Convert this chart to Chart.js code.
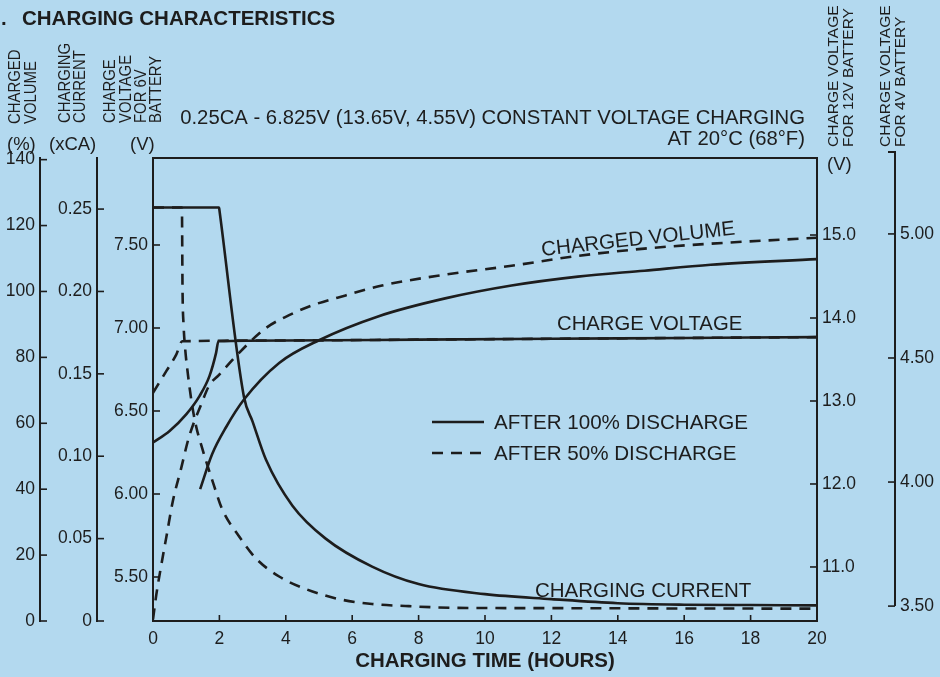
<!DOCTYPE html>
<html>
<head>
<meta charset="utf-8">
<script src="https://cdn.jsdelivr.net/npm/chart.js@4.4.1/dist/chart.umd.min.js"></script>
<style>
  html, body { margin: 0; padding: 0; background: #b3d9ef; }
  canvas { display: block; }
</style>
</head>
<body>
<canvas id="chart" width="940" height="677"></canvas>
<script>
// tick labels for every axis
var hourTicks = [0, 2, 4, 6, 8, 10, 12, 14, 16, 18, 20];
var volTicks = [0, 20, 40, 60, 80, 100, 120, 140];
var caTicks = [0, 0.05, 0.10, 0.15, 0.20, 0.25];
var v6Ticks = [5.5, 6.0, 6.5, 7.0, 7.5];
var v12Ticks = [11, 12, 13, 14, 15];
var v4Ticks = [3.5, 4.0, 4.5, 5.0];

// charge voltage (6V battery, V)
var volt100Hours = [0, 0.5, 1.0, 1.4, 1.7, 1.9, 1.97, 4, 8, 12, 16, 20];
var volt100 = [6.31, 6.38, 6.48, 6.59, 6.71, 6.85, 6.92, 6.925, 6.93, 6.935, 6.94, 6.945];
var volt50Hours = [0, 0.4, 0.7, 0.88, 4, 8, 12, 16, 20];
var volt50 = [6.61, 6.74, 6.84, 6.92, 6.925, 6.93, 6.935, 6.94, 6.945];

// charging current (xCA)
var cur100Hours = [0, 1.99, 2.0, 2.74, 3.0, 3.4, 4.2, 5.2, 6.6, 8.0, 10.0, 12, 14, 16, 18, 20];
var cur100 = [0.251, 0.251, 0.2495, 0.136, 0.121, 0.098, 0.070, 0.050, 0.033, 0.0224, 0.0163, 0.0133, 0.0108, 0.0099, 0.0097, 0.0095];
var cur50Hours = [0, 0.87, 0.89, 0.92, 0.97, 1.05, 1.17, 1.3, 1.45, 1.84, 2.08, 2.59, 3.1, 3.8, 4.6, 5.6, 6.6, 7.6, 9.1, 12, 16, 20];
var cur50 = [0.251, 0.251, 0.20, 0.18, 0.165, 0.150, 0.132, 0.118, 0.107, 0.082, 0.068, 0.0515, 0.038, 0.027, 0.0194, 0.0133, 0.0103, 0.0091, 0.0080, 0.0078, 0.0076, 0.0075];

// charged volume (%)
var vol100Hours = [1.42, 1.78, 2.2, 2.74, 3.8, 5.0, 6.8, 8.8, 10.8, 12.8, 14.8, 16.8, 20];
var vol100 = [40, 50.6, 58.8, 67.2, 78.3, 85.2, 92.5, 97.9, 101.8, 104.5, 106.3, 108.1, 109.8];
var vol50Hours = [0, 0.1, 0.25, 0.42, 0.6, 0.84, 1.08, 1.45, 1.69, 1.99, 2.5, 3.4, 4.1, 4.8, 5.8, 6.9, 8.8, 10.8, 12.8, 14.8, 16.8, 20];
var vol50 = [0.5, 8, 17, 26.5, 36.5, 46, 55.7, 65.7, 71.4, 74.7, 80.4, 88.9, 92.8, 95.8, 98.8, 101.8, 105.1, 107.8, 110.8, 113.0, 114.5, 116.3];

var ink = '#1d1d1d';
var face = '"Liberation Sans", Arial, sans-serif';

function pts(hs, vs) {
  return hs.map(function (h, i) { return { x: h, y: vs[i] }; });
}

function line(label, hs, vs, axis, dashed) {
  return {
    label: label,
    data: pts(hs, vs),
    yAxisID: axis,
    borderColor: ink,
    borderWidth: 2.6,
    borderDash: dashed ? [11, 8] : [],
    pointRadius: 0,
    fill: false,
    cubicInterpolationMode: 'monotone'
  };
}

function setTicks(arr) {
  return function (s) { s.ticks = arr.map(function (v) { return { value: v }; }); };
}

function fixWidth(w) {
  return function (s) { s.width = w; };
}

function put(ctx, s, x, y, size, o) {
  o = o || {};
  ctx.save();
  ctx.translate(x, y);
  if (o.rot) ctx.rotate(o.rot);
  if (o.sx) ctx.scale(o.sx, 1);
  ctx.font = (o.bold ? 'bold ' : '') + size + 'px ' + face;
  ctx.fillStyle = ink;
  ctx.textAlign = o.align || 'left';
  ctx.textBaseline = 'alphabetic';
  ctx.fillText(s, 0, 0);
  ctx.restore();
}

var tickFont = { family: face, size: 17.5 };

function yAxis(pos, weight, min, max, arr, width, fmt, border) {
  return {
    type: 'linear',
    position: pos,
    weight: weight,
    min: min,
    max: max,
    afterBuildTicks: setTicks(arr),
    afterFit: fixWidth(width),
    grid: { display: false, drawTicks: false },
    border: { display: border, color: ink, width: 2 },
    ticks: {
      autoSkip: false,
      padding: 5,
      color: ink,
      font: tickFont,
      callback: fmt
    }
  };
}

// inward tick marks, plot frame, 4V axis line and all the printed text
var decor = {
  id: 'decor',
  afterDraw: function (chart) {
    var ctx = chart.ctx;
    var a = chart.chartArea;
    var sc = chart.scales;
    ctx.save();
    ctx.strokeStyle = ink;
    ctx.lineWidth = 2;
    ctx.strokeRect(a.left, a.top, a.right - a.left, a.bottom - a.top);

    ctx.lineWidth = 1.6;
    // left axes: tick from the axis line to the right; right axes: to the left
    function ticksFor(id, side) {
      var s = sc[id];
      var x0 = side === 'left' ? s.right : s.left;
      var d = side === 'left' ? 7 : -7;
      s.ticks.forEach(function (t) {
        var p = s.getPixelForValue(t.value);
        ctx.beginPath();
        ctx.moveTo(x0, p);
        ctx.lineTo(x0 + d, p);
        ctx.stroke();
      });
    }
    ticksFor('yVol', 'left');
    ticksFor('yCA', 'left');
    ticksFor('y6', 'left');
    ticksFor('y12', 'right');
    ticksFor('y4', 'right');

    var xs = sc.x;
    xs.ticks.forEach(function (t) {
      var p = xs.getPixelForValue(t.value);
      ctx.beginPath();
      ctx.moveTo(p, a.bottom);
      ctx.lineTo(p, a.bottom - 6);
      ctx.stroke();
    });

    // 4V axis line, from 3.50 up above the frame
    var s4 = sc.y4;
    var y35 = s4.getPixelForValue(v4Ticks[0]);
    ctx.lineWidth = 2;
    ctx.beginPath();
    ctx.moveTo(s4.left, y35);
    ctx.lineTo(s4.left, s4.top - 6);
    ctx.lineTo(s4.left - 7, s4.top - 6);
    ctx.stroke();

    // legend
    ctx.lineWidth = 2.6;
    ctx.beginPath();
    ctx.moveTo(432, 422);
    ctx.lineTo(484, 422);
    ctx.stroke();
    ctx.setLineDash([11, 8]);
    ctx.beginPath();
    ctx.moveTo(432, 453);
    ctx.lineTo(484, 453);
    ctx.stroke();
    ctx.setLineDash([]);
    ctx.restore();

    put(ctx, 'AFTER 100% DISCHARGE', 494, 429, 20.6);
    put(ctx, 'AFTER 50% DISCHARGE', 494, 460, 20.6);

    put(ctx, '.', 1, 25, 20.5, { bold: true });
    put(ctx, 'CHARGING CHARACTERISTICS', 22, 25, 20.5, { bold: true });

    var up = -Math.PI / 2;
    put(ctx, 'CHARGED', 20, 124, 16, { rot: up, sx: 0.93 });
    put(ctx, 'VOLUME', 36, 124, 16, { rot: up, sx: 0.93 });
    put(ctx, 'CHARGING', 70, 123, 16, { rot: up, sx: 0.93 });
    put(ctx, 'CURRENT', 85, 123, 16, { rot: up, sx: 0.93 });
    put(ctx, 'CHARGE', 115, 123, 16, { rot: up, sx: 0.93 });
    put(ctx, 'VOLTAGE', 131, 123, 16, { rot: up, sx: 0.93 });
    put(ctx, 'FOR 6V', 146, 123, 16, { rot: up, sx: 0.93 });
    put(ctx, 'BATTERY', 161, 123, 16, { rot: up, sx: 0.93 });
    put(ctx, '(%)', 7, 150, 18.5);
    put(ctx, '(xCA)', 49, 150, 18.5);
    put(ctx, '(V)', 130, 150, 18.5);

    put(ctx, 'CHARGE VOLTAGE', 838, 147, 15.5, { rot: up });
    put(ctx, 'FOR 12V BATTERY', 853, 147, 15.5, { rot: up });
    put(ctx, 'CHARGE VOLTAGE', 890, 147, 15.5, { rot: up });
    put(ctx, 'FOR 4V BATTERY', 905, 147, 15.5, { rot: up });
    put(ctx, '(V)', 827, 170, 18.5);

    put(ctx, '0.25CA - 6.825V (13.65V, 4.55V) CONSTANT VOLTAGE CHARGING', 805, 124, 20.3, { align: 'right' });
    put(ctx, 'AT 20\u00B0C (68\u00B0F)', 805, 145, 20.3, { align: 'right' });

    put(ctx, 'CHARGED VOLUME', 542, 256, 20.5, { rot: -0.11 });
    put(ctx, 'CHARGE VOLTAGE', 557, 330, 20.3);
    put(ctx, 'CHARGING CURRENT', 535, 597, 20.5);
  }
};

var ctx = document.getElementById('chart').getContext('2d');

var chart = new Chart(ctx, {
  type: 'line',
  data: {
    datasets: [
      line('Charge voltage, after 100% discharge', volt100Hours, volt100, 'y6', false),
      line('Charge voltage, after 50% discharge', volt50Hours, volt50, 'y6', true),
      line('Charging current, after 100% discharge', cur100Hours, cur100, 'yCA', false),
      line('Charging current, after 50% discharge', cur50Hours, cur50, 'yCA', true),
      line('Charged volume, after 100% discharge', vol100Hours, vol100, 'yVol', false),
      line('Charged volume, after 50% discharge', vol50Hours, vol50, 'yVol', true)
    ]
  },
  options: {
    responsive: false,
    animation: false,
    devicePixelRatio: 1,
    layout: { padding: { top: 158, left: 0, right: 0, bottom: 0 } },
    plugins: {
      legend: { display: false },
      tooltip: { enabled: false }
    },
    scales: {
      x: {
        type: 'linear',
        min: 0,
        max: 20,
        afterBuildTicks: setTicks(hourTicks),
        afterFit: function (s) { s.height = 56; },
        grid: { display: false, drawTicks: false },
        border: { display: false },
        ticks: { autoSkip: false, maxRotation: 0, padding: 8, color: ink, font: tickFont },
        title: {
          display: true,
          text: 'CHARGING TIME (HOURS)',
          color: ink,
          font: { family: face, size: 20.5, weight: 'bold' },
          padding: { top: 4, bottom: 3 }
        }
      },
      y6: yAxis('left', 0, 5.235, 8.024, v6Ticks, 56, function (v) { return v.toFixed(2); }, false),
      yCA: yAxis('left', 1, 0, 0.281, caTicks, 57, function (v) { return v === 0 ? '0' : v.toFixed(2); }, true),
      yVol: yAxis('left', 2, 0, 140.5, volTicks, 40, function (v) { return String(v); }, true),
      y12: yAxis('right', 0, 10.349, 15.928, v12Ticks, 78, function (v) { return v.toFixed(1); }, false),
      y4: yAxis('right', 1, 3.44, 5.306, v4Ticks, 45, function (v) { return v.toFixed(2); }, false)
    }
  },
  plugins: [decor]
});
</script>
</body>
</html>
